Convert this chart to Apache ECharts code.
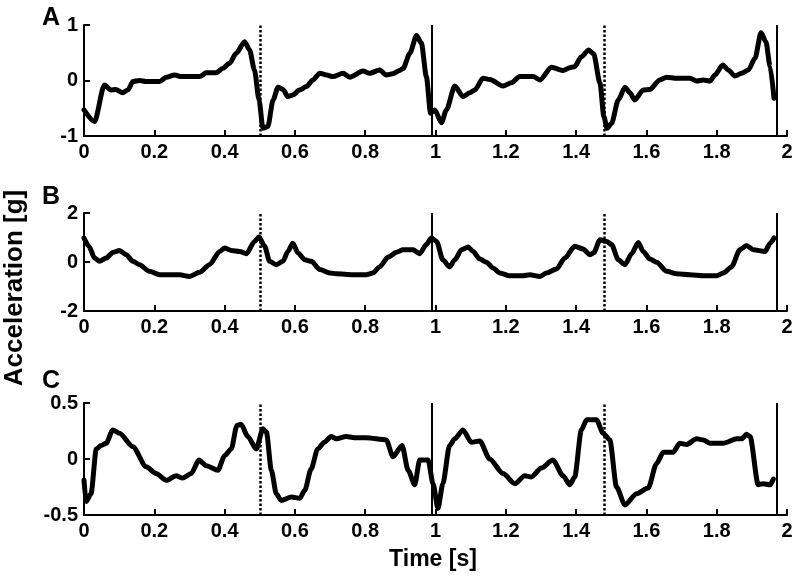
<!DOCTYPE html>
<html>
<head>
<meta charset="utf-8">
<script src="https://cdn.jsdelivr.net/npm/echarts/dist/echarts.min.js"></script>
<style>html,body{margin:0;padding:0;background:#fff}#c{width:800px;height:578px}</style>
</head>
<body>
<div id="c"></div>
<script>
// ---- data ----
const timeA = [0,0.03,0.058,0.077,0.09,0.11,0.125,0.139,0.158,0.177,
  0.215,0.234,0.258,0.277,0.329,0.348,0.376,0.395,0.414,0.433,
  0.457,0.471,0.485,0.498,0.509,0.523,0.538,0.552,0.566,0.58,
  0.594,0.613,0.633,0.651,0.671,0.69,0.708,0.737,0.756,0.794,
  0.813,0.841,0.86,0.878,0.898,0.908,0.927,0.946,0.96,0.974,
  0.986,0.998,1.017,1.031,1.055,1.078,1.098,1.112,1.135,1.155,
  1.192,1.216,1.24,1.278,1.297,1.33,1.363,1.382,1.396,1.415,
  1.436,1.45,1.468,1.479,1.488,1.501,1.52,1.539,1.553,1.567,
  1.591,1.61,1.638,1.658,1.686,1.724,1.743,1.762,1.781,1.795,
  1.817,1.833,1.852,1.871,1.89,1.909,1.926,1.94,1.952,1.963];
const accelA = [-0.53,-0.74,-0.08,-0.17,-0.16,-0.22,-0.17,-0.02,0.0,-0.02,
  -0.02,0.06,0.10,0.07,0.07,0.14,0.14,0.22,0.31,0.49,
  0.70,0.55,0.19,-0.35,-0.86,-0.83,-0.35,-0.12,-0.16,-0.29,
  -0.26,-0.17,-0.11,0.01,0.13,0.10,0.07,0.13,0.06,0.17,
  0.13,0.19,0.10,0.12,0.18,0.22,0.49,0.81,0.67,0.07,
  -0.59,-0.53,-0.76,-0.53,-0.10,-0.29,-0.22,-0.17,0.04,0.02,
  -0.10,-0.04,0.07,0.07,0.01,0.24,0.18,0.23,0.25,0.43,
  0.55,0.48,-0.05,-0.65,-0.86,-0.77,-0.35,-0.12,-0.22,-0.35,
  -0.17,-0.16,0.01,0.06,0.04,0.04,-0.01,0.01,-0.01,0.10,
  0.28,0.19,0.08,0.13,0.19,0.40,0.86,0.70,0.25,-0.32];

const timeB = [0,0.014,0.03,0.044,0.063,0.082,0.101,0.12,0.139,0.158,
  0.186,0.215,0.272,0.3,0.329,0.357,0.386,0.4,0.419,0.443,
  0.462,0.485,0.498,0.514,0.528,0.547,0.566,0.58,0.594,0.609,
  0.628,0.647,0.671,0.699,0.718,0.765,0.803,0.822,0.841,0.865,
  0.889,0.908,0.936,0.955,0.974,0.988,1.003,1.021,1.04,1.055,
  1.074,1.093,1.107,1.126,1.145,1.164,1.183,1.211,1.249,1.268,
  1.297,1.316,1.344,1.368,1.396,1.42,1.439,1.45,1.468,1.487,
  1.501,1.52,1.539,1.558,1.577,1.591,1.61,1.629,1.658,1.686,
  1.724,1.762,1.8,1.819,1.842,1.866,1.885,1.904,1.938,1.952,
  1.963];
const accelB = [0.98,0.64,0.16,0.03,0.16,0.39,0.47,0.30,0.03,-0.11,
  -0.38,-0.52,-0.52,-0.59,-0.42,-0.11,0.43,0.57,0.47,0.43,
  0.34,0.84,1.02,0.64,0.03,-0.11,0.03,0.43,0.77,0.37,
  0.09,0.03,-0.31,-0.45,-0.48,-0.52,-0.52,-0.45,-0.20,0.20,
  0.40,0.50,0.50,0.34,0.71,0.98,0.84,0.09,-0.20,0.09,
  0.50,0.61,0.43,0.12,-0.01,-0.25,-0.45,-0.56,-0.56,-0.52,
  -0.59,-0.45,-0.29,0.16,0.64,0.53,0.30,0.37,0.91,0.84,
  0.71,0.09,-0.11,0.34,0.80,0.43,0.12,-0.01,-0.38,-0.48,
  -0.52,-0.56,-0.56,-0.45,-0.20,0.50,0.67,0.50,0.43,0.77,
  0.98];

const timeC = [0,0.006,0.02,0.035,0.049,0.063,0.082,0.101,0.139,0.177,
  0.205,0.234,0.262,0.281,0.305,0.327,0.348,0.381,0.4,0.419,
  0.435,0.447,0.466,0.49,0.509,0.519,0.533,0.547,0.561,0.59,
  0.614,0.628,0.646,0.665,0.684,0.703,0.718,0.746,0.775,0.803,
  0.86,0.879,0.905,0.922,0.941,0.955,0.979,0.993,1.007,1.021,
  1.04,1.055,1.078,1.102,1.126,1.154,1.192,1.226,1.254,1.273,
  1.301,1.334,1.363,1.382,1.396,1.415,1.43,1.458,1.477,1.496,
  1.515,1.539,1.572,1.605,1.629,1.648,1.676,1.695,1.714,1.743,
  1.762,1.781,1.819,1.857,1.871,1.885,1.895,1.918,1.932,1.952,
  1.961];
const accelC = [-0.19,-0.38,-0.31,0.09,0.12,0.14,0.26,0.23,0.11,-0.07,
  -0.13,-0.19,-0.15,-0.17,-0.13,-0.01,-0.06,-0.10,0.03,0.09,
  0.30,0.31,0.20,0.09,0.27,0.24,-0.10,-0.31,-0.37,-0.34,
  -0.35,-0.28,-0.09,0.09,0.15,0.20,0.18,0.20,0.19,0.19,
  0.17,0.02,0.12,-0.10,-0.23,-0.01,-0.01,-0.22,-0.44,-0.22,
  0.12,0.18,0.26,0.15,0.16,0.00,-0.13,-0.22,-0.15,-0.16,
  -0.08,-0.01,-0.15,-0.23,-0.16,0.26,0.35,0.35,0.23,0.17,
  -0.25,-0.41,-0.31,-0.26,-0.04,0.06,0.06,0.14,0.13,0.18,
  0.17,0.14,0.14,0.18,0.18,0.22,0.20,-0.23,-0.22,-0.23,
  -0.18];

const panelLetters = ['A', 'B', 'C'];
const yMins = [-1, -2, -0.5];
const yMaxs = [1, 2, 0.5];
const yIntervals = [1, 2, 0.5];
const markerTimes = [0.497, 0.986, 1.477, 1.968];
const markerKinds = ['dotted', 'solid', 'dotted', 'solid'];
const xLabelText = 'Time [s]';
const yLabelText = 'Acceleration [g]';

// ---- chart ----
const FONT = '"Liberation Sans", Arial, sans-serif';
const zip = (t, v) => t.map((x, i) => [x, v[i]]);
const seriesData = [zip(timeA, accelA), zip(timeB, accelB), zip(timeC, accelC)];

const gridTops = [25, 213, 403];
const gridHeights = [111, 98, 112];
const letterY = [18, 197, 381];

const grids = gridTops.map((t, i) => ({ left: 84, width: 703, top: t, height: gridHeights[i] }));

const axisCommon = {
  axisLine: { show: true, onZero: false, lineStyle: { color: '#000', width: 2 } },
  axisTick: { show: true, inside: true, length: 6, lineStyle: { color: '#000', width: 2 } },
  splitLine: { show: false },
  axisLabel: { color: '#000', fontSize: 20, fontWeight: 'bold', fontFamily: FONT }
};

const xAxes = [0, 1, 2].map(i => Object.assign({}, axisCommon, {
  type: 'value', gridIndex: i, min: 0, max: 2, interval: 0.2,
  axisLabel: Object.assign({}, axisCommon.axisLabel, { margin: 6, showMinLabel: true, showMaxLabel: true })
}));
const yAxes = [0, 1, 2].map(i => Object.assign({}, axisCommon, {
  type: 'value', gridIndex: i, min: yMins[i], max: yMaxs[i], interval: yIntervals[i],
  axisLabel: Object.assign({}, axisCommon.axisLabel, { margin: 6 })
}));

const markData = markerTimes.map((t, k) => ({
  xAxis: t,
  lineStyle: markerKinds[k] === 'dotted'
    ? { color: '#000', width: 2.5, type: [2.5, 2] }
    : { color: '#000', width: 2, type: 'solid' }
}));

const series = [0, 1, 2].map(i => ({
  type: 'line', xAxisIndex: i, yAxisIndex: i, data: seriesData[i],
  showSymbol: false, symbol: 'none', smooth: 0.25, smoothMonotone: 'x',
  lineStyle: { color: '#000', width: 5, join: 'round', cap: 'round' },
  animation: false,
  markLine: { silent: true, symbol: ['none', 'none'], label: { show: false }, animation: false, data: markData }
}));

const graphics = panelLetters.map((L, i) => ({
  type: 'text', left: 42, top: letterY[i] - 12,
  style: { text: L, font: 'bold 25px ' + FONT, fill: '#000' }
}));
graphics.push({
  type: 'text', x: 15, y: 288, rotation: Math.PI / 2,
  style: { text: yLabelText, font: 'bold 26px ' + FONT, fill: '#000', align: 'center', verticalAlign: 'middle' }
});
graphics.push({
  type: 'text', x: 433, y: 560,
  style: { text: xLabelText, font: 'bold 23px ' + FONT, fill: '#000', align: 'center', verticalAlign: 'middle' }
});

const chart = echarts.init(document.getElementById('c'), null, { renderer: 'canvas' });
chart.setOption({
  backgroundColor: '#fff',
  animation: false,
  grid: grids,
  xAxis: xAxes,
  yAxis: yAxes,
  series: series,
  graphic: graphics
});
</script>
</body>
</html>
